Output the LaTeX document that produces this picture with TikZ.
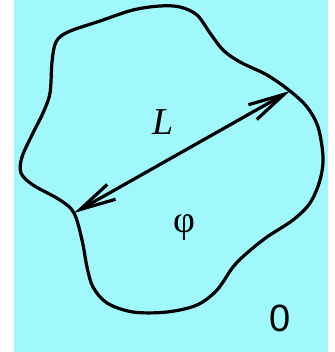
\documentclass[tikz,border=0pt]{standalone}
\usepackage{fontspec}
\setmainfont{Liberation Serif}
\newfontfamily\sansf{Liberation Sans}
\usetikzlibrary{arrows.meta}
\definecolor{bgcyan}{RGB}{160,248,252}
\tikzset{
  blob/.style={line width=3.2pt, line join=round},
  dimarrow/.style={line width=3.2pt, {Straight Barb[length=36pt,width=17pt]}-{Straight Barb[length=36pt,width=17pt]}},
  lbl/.style={inner sep=0pt}
}
\begin{document}
\begin{tikzpicture}[x=1pt,y=-1pt]
\useasboundingbox (0,0) rectangle (334,352);
\fill[bgcyan] (14,0) rectangle (328,352);
\draw[blob] plot[smooth cycle, tension=0.55] coordinates {
 (52,62) (56,42) (68,32) (100,21) (133,10) (160,6) (180,7) (197,15)
 (210,33) (223,50) (240,62) (267,75) (290,91) (307,107) (318,127)
 (323,157) (320,180) (310,203) (293,220) (267,237) (247,253) (233,267)
 (217,290) (197,305) (167,312) (133,312) (107,303) (93,287) (87,267)
 (82,240) (74,213) (60,200) (33,185) (21,173) (22,157) (33,133)
 (43,113) (50,93)};
\coordinate (a) at (74,213);
\coordinate (b) at (290,91);
\draw[dimarrow] (a) -- (b);
\node[lbl] (L) at (163,122) {\fontsize{38}{40}\selectfont\itshape L};
\node[lbl] (phi) at (184,228) {\fontsize{38}{40}\selectfont φ};
\node[lbl] (zero) at (280,318) {\fontsize{38}{40}\selectfont\sansf 0};
\end{tikzpicture}
\end{document}
